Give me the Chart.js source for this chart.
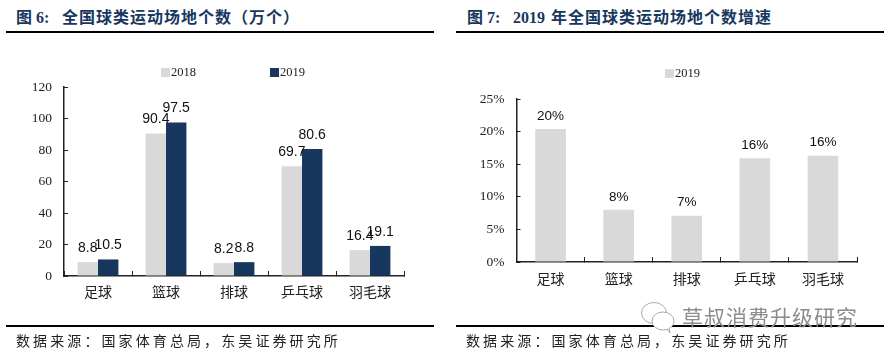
<!DOCTYPE html>
<html>
<head>
<meta charset="utf-8">
<script src="https://cdn.jsdelivr.net/npm/chart.js@4"></script>
<style>
    html, body { margin: 0; padding: 0; background: #fff; }
    #page { position: relative; width: 885px; height: 357px; overflow: hidden; font-family: "Liberation Serif", "Noto Sans CJK SC", serif; }
    #page div, #page canvas, #page svg { position: absolute; }
    .title { top: 8px; font-size: 16px; line-height: 20px; font-weight: 700; color: #17375e; letter-spacing: 1px; white-space: pre; }
    .latin { letter-spacing: 0; }
    .rule { height: 2px; width: 428px; background: #000; }
    .source { top: 332px; font-size: 14px; line-height: 20px; color: #222; letter-spacing: 3.1px; white-space: pre; }
    .legendBox { width: 9px; height: 9px; }
    .legendText { font-size: 12.5px; line-height: 14px; color: #222; }
    #mark { left: 682px; top: 305px; font-size: 21px; line-height: 26px; color: #8c8c8c; letter-spacing: 1px; white-space: pre; }
</style>
</head>
<body>
<div id="page">
    <div class="title latin" style="left:16px">图 6:</div>
    <div class="title" style="left:62px">全国球类运动场地个数（万个）</div>
    <div class="rule" style="left:6px;top:31px"></div>
    <canvas id="countChart" width="440" height="357" style="left:0;top:0;width:440px;height:357px"></canvas>
    <div class="rule" style="left:6px;top:325px"></div>
    <div class="source" style="left:16px">数据来源：国家体育总局，东吴证券研究所</div>

    <div class="title latin" style="left:467px">图 7:</div>
    <div class="title latin" style="left:513px">2019</div>
    <div class="title" style="left:551px">年全国球类运动场地个数增速</div>
    <div class="rule" style="left:456px;top:31px"></div>
    <canvas id="growthChart" width="440" height="357" style="left:445px;top:0;width:440px;height:357px"></canvas>
    <div class="rule" style="left:456px;top:325px"></div>
    <div class="source" style="left:466px">数据来源：国家体育总局，东吴证券研究所</div>

    <svg style="left:640px;top:300px" width="36" height="34" viewBox="0 0 36 34" fill="#fff" stroke="#aaa" stroke-width="1">
        <ellipse cx="14" cy="13" rx="12.5" ry="10.5"/>
        <ellipse cx="23" cy="21" rx="11" ry="9"/>
        <path d="M27 29l3 4-1-5"/>
    </svg>
    <div id="mark">草叔消费升级研究</div>
</div>

<script>
var categories = ['足球', '篮球', '排球', '乒乓球', '羽毛球'];
var values2018 = [8.8, 90.4, 8.2, 69.7, 16.4];
var values2019 = [10.5, 97.5, 8.8, 80.6, 19.1];
var growth2019 = [20.4, 8.0, 7.1, 15.9, 16.3];
var countTicks = [0, 20, 40, 60, 80, 100, 120];
var growthTicks = [0, 5, 10, 15, 20, 25];

var GREY = '#d9d9d9';
var NAVY = '#17375e';

// Data labels sit a fixed distance above each bar top (no datalabels plugin here)
var barLabels = {
    id: 'barLabels',
    afterDatasetsDraw: function (chart, args, opts) {
        var ctx = chart.ctx;
        ctx.save();
        ctx.font = opts.size + 'px "Liberation Sans", Arial, sans-serif';
        ctx.fillStyle = '#111';
        ctx.textAlign = 'center';
        ctx.textBaseline = 'middle';
        chart.data.datasets.forEach(function (ds, i) {
            chart.getDatasetMeta(i).data.forEach(function (bar, j) {
                ctx.fillText(opts.format(ds.data[j]), bar.x, bar.y - opts.offset);
            });
        });
        ctx.restore();
    }
};

function addLegend(canvasLeft, top, items) {
    var page = document.getElementById('page');
    items.forEach(function (item) {
        var box = document.createElement('div');
        box.className = 'legendBox';
        box.style.cssText = 'left:' + (canvasLeft + item.x) + 'px;top:' + (top + 3) + 'px;background:' + item.color;
        page.appendChild(box);
        var text = document.createElement('div');
        text.className = 'legendText';
        text.style.cssText = 'left:' + (canvasLeft + item.x + 10) + 'px;top:' + top + 'px';
        text.textContent = item.label;
        page.appendChild(text);
    });
}

function makeOptions(cfg) {
    return {
        responsive: false,
        animation: false,
        layout: { padding: { top: cfg.top, right: cfg.right, left: 0, bottom: 0 } },
        plugins: {
            legend: { display: false },
            tooltip: { enabled: false },
            barLabels: { format: cfg.format, offset: cfg.labelOffset, size: cfg.labelSize }
        },
        scales: {
            x: {
                offset: true,
                grid: { offset: true, drawOnChartArea: false, drawTicks: true, tickLength: -5, color: '#222', tickWidth: 1 },
                border: { color: '#222', width: 1.5 },
                ticks: {
                    font: { family: '"Noto Sans CJK SC"', size: 14 },
                    color: '#222',
                    padding: cfg.xPad,
                    maxRotation: 0,
                    autoSkip: false
                },
                afterFit: function (scale) { scale.height = cfg.xHeight; }
            },
            y: {
                min: cfg.ticks[0],
                max: cfg.ticks[cfg.ticks.length - 1],
                afterBuildTicks: function (scale) {
                    scale.ticks = cfg.ticks.map(function (v) { return { value: v }; });
                },
                grid: { drawOnChartArea: false, drawTicks: true, tickLength: -4, color: '#222', tickWidth: 1 },
                border: { color: '#222', width: 1.5 },
                ticks: {
                    font: { family: '"Liberation Serif"', size: 13.5 },
                    color: '#222',
                    padding: 16,
                    callback: cfg.tickFormat
                },
                afterFit: function (scale) { scale.width = cfg.yWidth; }
            }
        }
    };
}

new Chart(document.getElementById('countChart').getContext('2d'), {
    type: 'bar',
    data: {
        labels: categories,
        datasets: [
            { label: '2018', data: values2018, backgroundColor: GREY, barPercentage: 1, categoryPercentage: 0.6 },
            { label: '2019', data: values2019, backgroundColor: NAVY, barPercentage: 1, categoryPercentage: 0.6 }
        ]
    },
    options: makeOptions({
        top: 87, right: 36, yWidth: 64, xHeight: 81, xPad: 12, ticks: countTicks, labelSize: 14, labelOffset: 14,
        format: function (v) { return v.toFixed(1); },
        tickFormat: function (v) { return v; }
    }),
    plugins: [barLabels]
});

new Chart(document.getElementById('growthChart').getContext('2d'), {
    type: 'bar',
    data: {
        labels: categories,
        datasets: [
            { label: '2019', data: growth2019, backgroundColor: GREY, barPercentage: 0.45, categoryPercentage: 1 }
        ]
    },
    options: makeOptions({
        top: 99, right: 28, yWidth: 71.5, xHeight: 95, xPad: 13, ticks: growthTicks, labelSize: 13.5, labelOffset: 13,
        format: function (v) { return Math.round(v) + '%'; },
        tickFormat: function (v) { return v + '%'; }
    }),
    plugins: [barLabels]
});

addLegend(0, 65, [{ x: 161, label: '2018', color: GREY }, { x: 270, label: '2019', color: NAVY }]);
addLegend(445, 66, [{ x: 220, label: '2019', color: GREY }]);
</script>
</body>
</html>
